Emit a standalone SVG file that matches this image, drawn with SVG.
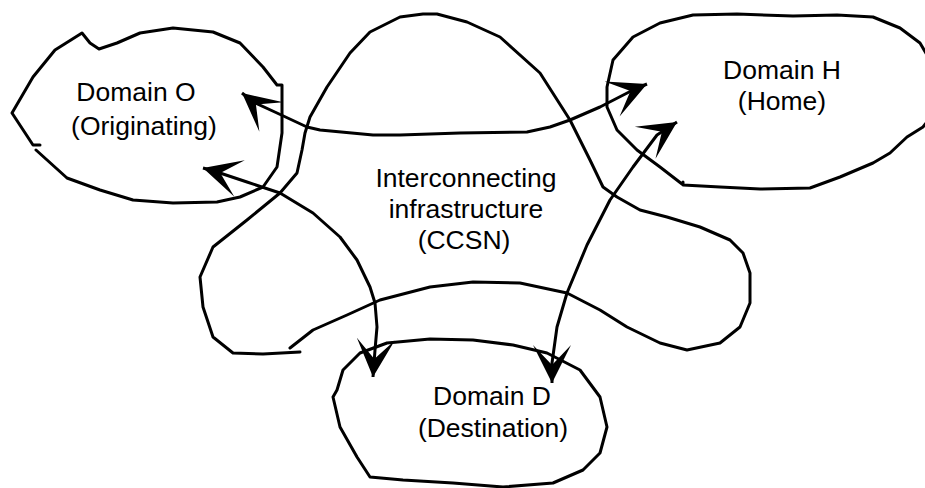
<svg xmlns="http://www.w3.org/2000/svg" width="925" height="488" viewBox="0 0 925 488">
<defs>
<style>
.blob{fill:none;stroke:#000;stroke-width:3;stroke-linejoin:round;stroke-linecap:round}
.conn{fill:none;stroke:#000;stroke-width:3;stroke-linejoin:round;marker-start:url(#ah);marker-end:url(#ah)}
.lbl{font-family:"Liberation Sans",Arial,sans-serif;font-size:26.5px;fill:#000;text-anchor:middle}
</style>
<marker id="ah" viewBox="-40 -25 45 50" markerWidth="45" markerHeight="50" refX="0" refY="0" orient="auto-start-reverse" markerUnits="userSpaceOnUse">
<path d="M0,0 L-38,-19 L-18,0 L-38,19 Z" fill="#000"/>
</marker>
</defs>
<rect width="925" height="488" fill="#fff"/>
<g id="ccsn">
<path class="blob" d="M300,352 L263,354 L233,353 L213,337 L203,307 L200,277 L213,247 L247,220 L280,193 L297,173 L302,150 L305,133 L310,117 L327,87 L350,53 L370,32 L400,17 L423,14 L437,14 L467,22 L500,37 L540,73 L570,120 L590,160 L603,187 L617,197 L640,210 L667,217 L700,227 L730,240 L743,253 L750,273 L750,303 L740,327 L720,343 L687,350 L660,343 L627,327 L600,310 L567,293 L520,283 L473,282 L430,287 L380,300 L347,315 L313,330 L290,348"/>
<text class="lbl" x="466" y="187">Interconnecting</text>
<text class="lbl" x="466" y="218">infrastructure</text>
<text class="lbl" x="464" y="249">(CCSN)</text>
</g>
<g id="domain-o">
<path class="blob" d="M36,150 L67,178 L100,190 L133,200 L173,203 L217,202 L240,197 L263,187 L277,167 L282,133 L282,85 L277,85 L263,67 L240,43 L213,32 L173,28 L140,33 L117,43 L99,49 L90,43 L82,33 L55,50 L33,77 L12,113 L33,145 L40,145"/>
<text class="lbl" x="136" y="101">Domain O</text>
<text class="lbl" x="144" y="135">(Originating)</text>
</g>
<g id="domain-h">
<path class="blob" d="M683,182 L683,185 L720,187 L760,189 L810,188 L840,177 L873,163 L890,153 L907,137 L923,127 L930,118 L930,60 L920,43 L900,28 L873,17 L837,15 L793,16 L737,14 L693,15 L660,23 L633,37 L613,60 L607,87 L607,107 L617,130 L637,150 L660,167 L682,184"/>
<text class="lbl" x="782" y="79">Domain H</text>
<text class="lbl" x="782" y="110">(Home)</text>
</g>
<g id="domain-d">
<path class="blob" d="M337,390 L343,370 L360,353 L387,343 L430,339 L473,340 L513,345 L547,353 L580,370 L600,397 L607,427 L600,453 L583,470 L553,483 L503,487 L453,483 L403,480 L370,477 L357,457 L340,427 L333,397 Z"/>
<text class="lbl" x="492" y="405">Domain D</text>
<text class="lbl" x="493" y="437">(Destination)</text>
</g>
<g id="connectors">
<path class="conn" d="M242,93 L253,102 L277,113 L307,127 L320,130 L373,135 L400,135 L460,133 L527,132 L550,127 L570,120 L600,107 L633,90 L647,84"/>
<path class="conn" d="M203,168 L217,172 L247,182 L280,193 L313,213 L340,237 L357,260 L370,287 L375,303 L377,327 L375,350 L373,377"/>
<path class="conn" d="M677,122 L657,135 L633,167 L610,200 L587,245 L567,293 L557,327 L552,363 L552,383"/>
</g>
</svg>
